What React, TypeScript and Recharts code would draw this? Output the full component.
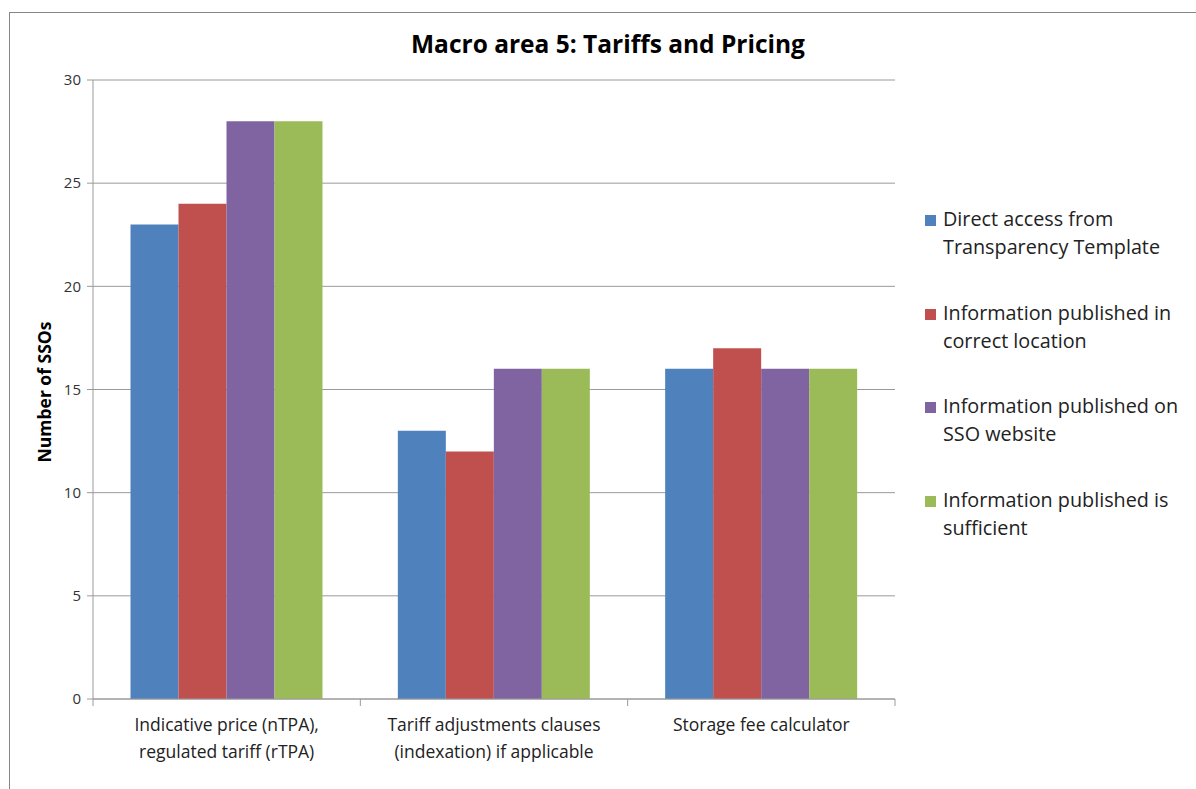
import React from 'react';
import { BarChart, Bar, XAxis, YAxis, CartesianGrid } from 'recharts';

const categories = [
  'Indicative price (nTPA),\nregulated tariff (rTPA)',
  'Tariff adjustments clauses\n(indexation) if applicable',
  'Storage fee calculator',
];

const directAccess = [23, 13, 16];
const correctLocation = [24, 12, 17];
const onWebsite = [28, 16, 16];
const sufficient = [28, 16, 16];

const yTicks = [0, 5, 10, 15, 20, 25, 30];

const seriesNames = [
  'Direct access from\nTransparency Template',
  'Information published in\ncorrect location',
  'Information published on\nSSO website',
  'Information published is\nsufficient',
];
const seriesKeys = ['direct', 'location', 'website', 'sufficient'];
const seriesColors = ['#4F81BD', '#C0504D', '#8064A2', '#9BBB59'];

const data = categories.map((name, i) => ({
  name,
  direct: directAccess[i],
  location: correctLocation[i],
  website: onWebsite[i],
  sufficient: sufficient[i],
}));

const FONT = '"Open Sans", sans-serif';
const AXIS = '#9a9a9a';

const W = 1196;
const H = 789;
const margin = { top: 80, right: 301, bottom: 30, left: 33 };
const Y_WIDTH = 60;
const plotWidth = W - margin.left - margin.right - Y_WIDTH;
const band = plotWidth / categories.length;

// category labels plus the tick marks on the category boundaries
function CategoryTick(props: any) {
  const { x, y, payload, index } = props;
  const lines = String(payload.value).split('\n');
  const left = x - band / 2;
  return (
    <g>
      <line x1={left} x2={left} y1={y} y2={y + 7} stroke={AXIS} />
      {index === categories.length - 1 && (
        <line x1={left + band} x2={left + band} y1={y} y2={y + 7} stroke={AXIS} />
      )}
      <text x={x} y={y} textAnchor="middle" fontFamily={FONT} fontSize={17.5} fill="#222">
        {lines.map((l, i) => (
          <tspan key={i} x={x} dy={i === 0 ? 32 : 27}>
            {l}
          </tspan>
        ))}
      </text>
    </g>
  );
}

function LegendBox() {
  return (
    <div style={{ position: 'absolute', left: 925, top: 205, fontFamily: FONT, fontSize: 19.8, color: '#222' }}>
      {seriesNames.map((n, i) => (
        <div key={n} style={{ position: 'relative', height: 93.5 }}>
          <div
            style={{ position: 'absolute', left: 0, top: 10, width: 11, height: 11, background: seriesColors[i] }}
          />
          <div style={{ position: 'absolute', left: 18, top: 0, lineHeight: '28px', whiteSpace: 'pre' }}>{n}</div>
        </div>
      ))}
    </div>
  );
}

export default function App() {
  return (
    <div style={{ position: 'absolute', left: 0, top: 0, width: W, height: H, background: '#fff', overflow: 'hidden' }}>
      <div
        style={{
          position: 'absolute',
          left: 9,
          top: 12,
          width: W,
          height: H,
          borderLeft: '1px solid #868686',
          borderTop: '1px solid #868686',
        }}
      />
      <div
        style={{
          position: 'absolute',
          left: 0,
          width: 1216,
          top: 27,
          textAlign: 'center',
          fontFamily: FONT,
          fontWeight: 'bold',
          fontSize: 24.5,
          color: '#000',
        }}
      >
        Macro area 5: Tariffs and Pricing
      </div>
      <div
        style={{
          position: 'absolute',
          left: 44,
          top: 392,
          transform: 'translate(-50%, -50%) rotate(-90deg)',
          whiteSpace: 'nowrap',
          fontFamily: FONT,
          fontWeight: 'bold',
          fontSize: 17.5,
          color: '#000',
        }}
      >
        Number of SSOs
      </div>
      <BarChart width={W} height={H} data={data} margin={margin} barGap={0} barCategoryGap={37.5}>
        <CartesianGrid vertical={false} stroke={AXIS} />
        <XAxis
          dataKey="name"
          interval={0}
          axisLine={{ stroke: AXIS }}
          tickLine={false}
          tickSize={0}
          tickMargin={0}
          height={60}
          tick={<CategoryTick />}
        />
        <YAxis
          width={Y_WIDTH}
          domain={[0, 30]}
          ticks={yTicks}
          interval={0}
          axisLine={{ stroke: AXIS }}
          tickLine={{ stroke: AXIS }}
          tickSize={6}
          tickMargin={6}
          tick={{ fontFamily: FONT, fontSize: 15, fill: '#333' }}
        />
        {seriesKeys.map((k, i) => (
          <Bar key={k} dataKey={k} fill={seriesColors[i]} isAnimationActive={false} />
        ))}
      </BarChart>
      <LegendBox />
    </div>
  );
}
